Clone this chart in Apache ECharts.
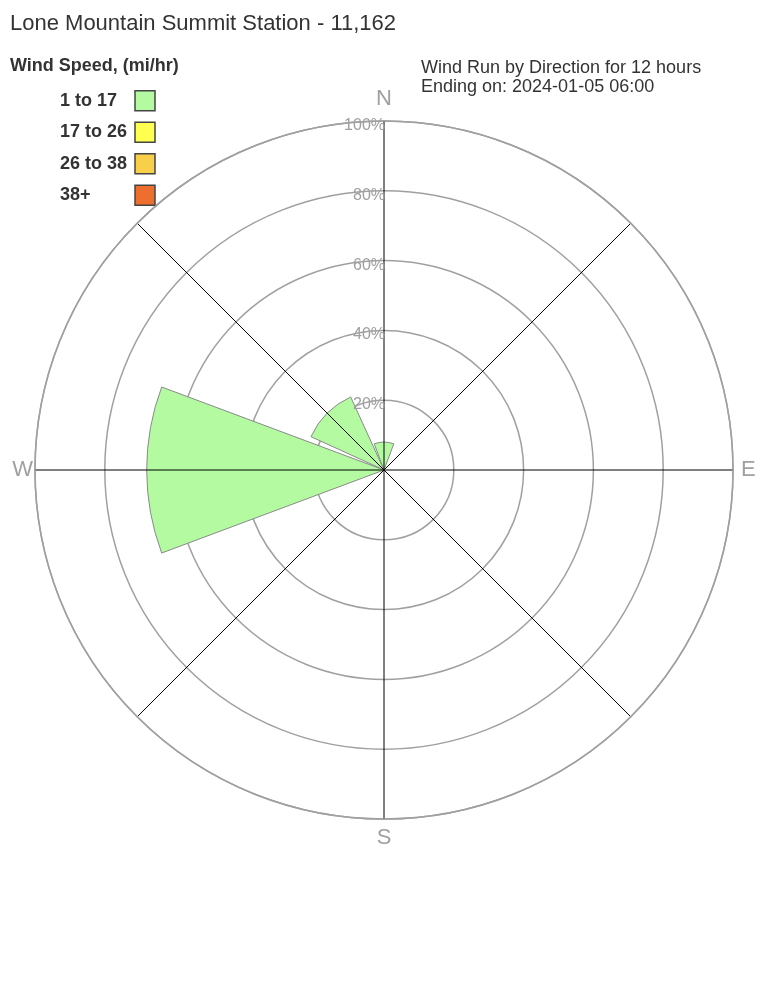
<!DOCTYPE html>
<html>
<head>
<meta charset="utf-8">
<script src="https://cdn.jsdelivr.net/npm/echarts@6/dist/echarts.min.js"></script>
<style>
html,body{margin:0;padding:0;background:#fff;}
#chart{width:768px;height:1008px;}
</style>
</head>
<body>
<div id="chart"></div>
<script>
// ---- data ----
const directions = ['N', 'NE', 'E', 'SE', 'S', 'SW', 'W', 'NW'];
const speedBins = ['1 to 17', '17 to 26', '26 to 38', '38+'];
const run_1_17  = [8, 0, 0, 0, 0, 0, 68, 23];
const run_17_26 = [0, 0, 0, 0, 0, 0, 0, 0];
const run_26_38 = [0, 0, 0, 0, 0, 0, 0, 0];
const run_38p   = [0, 0, 0, 0, 0, 0, 0, 0];
const compassLabels = ['N', 'E', 'S', 'W'];
const radialTicks = [20, 40, 60, 80, 100];

// ---- styles ----
const binColors = ['#b3faa0', '#ffff50', '#f8cf48', '#ee6f2d'];
const FONT = '"Liberation Sans", Arial, sans-serif';
const GRAY = '#a0a0a0';
const CENTER = [384, 470];
const RADIUS = 349;

const seriesData = [run_1_17, run_17_26, run_26_38, run_38p];

const chart = echarts.init(document.getElementById('chart'), null, {renderer: 'canvas'});

const option = {
  backgroundColor: '#fff',
  animation: false,
  textStyle: {fontFamily: FONT},
  title: [
    {text: 'Lone Mountain Summit Station - 11,162', left: 5, top: 8,
     textStyle: {fontSize: 22, fontWeight: 'normal', color: '#333', fontFamily: FONT}},
    {text: 'Wind Speed, (mi/hr)', left: 5, top: 52,
     textStyle: {fontSize: 18, fontWeight: 'bold', color: '#333', fontFamily: FONT}},
    {text: 'Wind Run by Direction for 12 hours\nEnding on: 2024-01-05 06:00', left: 416, top: 54,
     textStyle: {fontSize: 18, fontWeight: 'normal', color: '#333', lineHeight: 19, fontFamily: FONT}}
  ],
  legend: {
    orient: 'vertical',
    left: 55,
    top: 85,
    align: 'right',
    itemWidth: 20,
    itemHeight: 20,
    itemGap: 10,
    icon: 'rect',
    data: speedBins,
    itemStyle: {borderColor: '#444', borderWidth: 1.5},
    formatter: '{a|{name}}',
    textStyle: {
      rich: {a: {width: 70, align: 'left', fontSize: 18, fontWeight: 'bold', color: '#333', fontFamily: FONT, lineHeight: 20}}
    },
    selectedMode: false
  },
  polar: [
    {center: CENTER, radius: RADIUS},
    {center: CENTER, radius: RADIUS},
    {center: CENTER, radius: RADIUS}
  ],
  angleAxis: [
    {
      polarIndex: 0, type: 'value', min: 0, max: 360, interval: 45,
      startAngle: 90, clockwise: true, z: 10,
      axisLine: {show: true, lineStyle: {color: GRAY, width: 1.5}},
      axisTick: {show: false},
      splitLine: {show: true, lineStyle: {color: '#000', width: 1}},
      axisLabel: {
        show: true, margin: 2, color: GRAY, fontSize: 22, fontFamily: FONT,
        formatter: function (v) {
          const idx = Math.round(v / 90);
          if (v % 90 !== 0 || idx > 3) return '';
          const t = compassLabels[idx];
          return '{' + t.toLowerCase() + '|' + t + '}';
        },
        rich: {
          n: {color: GRAY, fontSize: 22, fontFamily: FONT, padding: [0, 0, 9, 0]},
          e: {color: GRAY, fontSize: 22, fontFamily: FONT, padding: [0, 0, 0, 6]},
          s: {color: GRAY, fontSize: 22, fontFamily: FONT, padding: [6, 0, 0, 0]},
          w: {color: GRAY, fontSize: 22, fontFamily: FONT, padding: [0, 0, 0, 0]}
        }
      }
    },
    {
      polarIndex: 1, type: 'category', data: directions,
      startAngle: 112.5, clockwise: true, show: false
    },
    {
      polarIndex: 2, type: 'value', min: 0, max: 360, startAngle: 90, clockwise: true, show: false
    }
  ],
  radiusAxis: [
    {
      polarIndex: 0, type: 'value', min: 0, max: 100, interval: 20, z: 0,
      axisLine: {show: false}, axisTick: {show: false}, axisLabel: {show: false},
      splitLine: {show: true, lineStyle: {color: GRAY, width: 1.5}}
    },
    {
      polarIndex: 1, type: 'value', min: 0, max: 100, show: false
    },
    {
      polarIndex: 2, type: 'value', min: 0, max: 100, interval: 20, z: 11,
      axisLine: {show: false}, axisTick: {show: false}, splitLine: {show: false},
      axisLabel: {
        show: true, color: GRAY, fontSize: 16, fontFamily: FONT, margin: -1,
        formatter: function (v) { return radialTicks.indexOf(v) >= 0 ? '{p|' + v + '%}' : ''; },
        rich: {p: {color: GRAY, fontSize: 16, fontFamily: FONT, padding: [9, 0, 0, 0]}}
      }
    }
  ],
  series: speedBins.map(function (name, i) {
    return {
      name: name,
      type: 'bar',
      coordinateSystem: 'polar',
      polarIndex: 1,
      stack: 'run',
      barCategoryGap: '9%',
      z: 2,
      itemStyle: {color: binColors[i], borderColor: '#8a8a8a', borderWidth: 1},
      data: seriesData[i].map(function (v) { return v === 0 ? null : v; })
    };
  })
};

chart.setOption(option);
</script>
</body>
</html>
